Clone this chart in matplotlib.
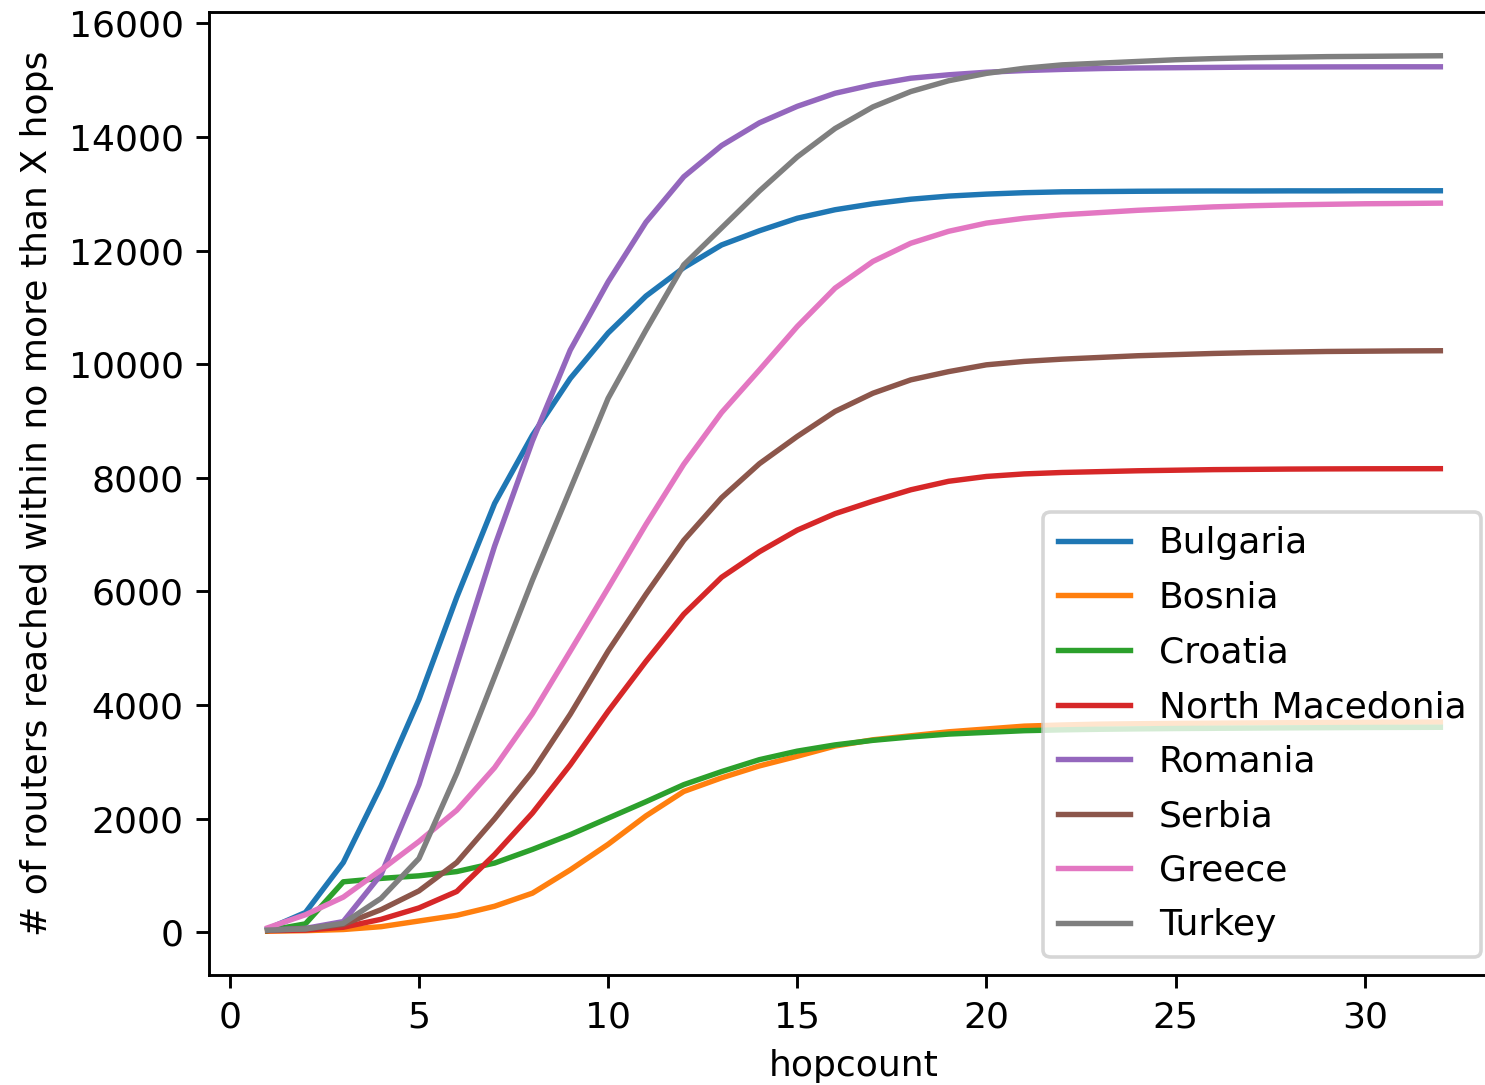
import numpy as np
import matplotlib.pyplot as plt

hops = np.arange(1, 33)

bulgaria = [60, 350, 1230, 2580, 4100, 5900, 7550, 8750, 9750, 10550, 11200, 11700,
            12100, 12350, 12570, 12720, 12825, 12905, 12960, 12995, 13020, 13035, 13040, 13045,
            13048, 13050, 13050, 13052, 13052, 13054, 13054, 13054]
bosnia = [20, 30, 50, 100, 200, 300, 460, 690, 1100, 1550, 2050, 2480,
          2720, 2930, 3100, 3280, 3390, 3460, 3530, 3580, 3630, 3650, 3665, 3672,
          3678, 3682, 3686, 3690, 3694, 3697, 3699, 3700]
croatia = [30, 150, 890, 950, 995, 1070, 1220, 1460, 1720, 2010, 2300, 2600,
           2830, 3040, 3190, 3300, 3380, 3440, 3490, 3520, 3550, 3565, 3575, 3582,
           3588, 3592, 3596, 3600, 3603, 3606, 3608, 3610]
north_macedonia = [30, 40, 90, 230, 430, 720, 1370, 2100, 2950, 3890, 4770, 5600,
                   6250, 6700, 7080, 7370, 7590, 7790, 7940, 8025, 8070, 8095, 8110, 8125,
                   8135, 8145, 8150, 8155, 8158, 8160, 8161, 8162]
romania = [40, 70, 190, 1020, 2600, 4700, 6800, 8650, 10250, 11450, 12500, 13300,
           13850, 14250, 14540, 14770, 14920, 15035, 15095, 15140, 15170, 15190, 15205, 15215,
           15220, 15225, 15230, 15232, 15234, 15235, 15236, 15236]
serbia = [40, 60, 140, 400, 730, 1230, 2000, 2830, 3840, 4950, 5950, 6900,
          7650, 8250, 8730, 9170, 9490, 9725, 9870, 9990, 10050, 10090, 10120, 10150,
          10170, 10190, 10205, 10215, 10225, 10230, 10235, 10238]
greece = [80, 310, 620, 1100, 1600, 2150, 2900, 3850, 4950, 6060, 7180, 8240,
          9150, 9900, 10665, 11340, 11810, 12130, 12340, 12485, 12570, 12630, 12670, 12710,
          12740, 12770, 12790, 12805, 12815, 12825, 12830, 12836]
turkey = [40, 60, 160, 600, 1300, 2800, 4500, 6200, 7800, 9400, 10600, 11750,
          12400, 13050, 13650, 14150, 14530, 14800, 14990, 15120, 15210, 15270, 15300, 15330,
          15360, 15380, 15395, 15405, 15415, 15420, 15425, 15430]

countries = ["Bulgaria", "Bosnia", "Croatia", "North Macedonia",
             "Romania", "Serbia", "Greece", "Turkey"]
series = [bulgaria, bosnia, croatia, north_macedonia,
          romania, serbia, greece, turkey]

dpi = 260
fig = plt.figure(figsize=(1485 / dpi, 1085 / dpi), dpi=dpi)
# the original image is cropped on the right, so the axes run past the figure edge
ax = fig.add_axes([209 / 1485, 110 / 1085, 1290 / 1485, 963 / 1085])

for name, values in zip(countries, series):
    ax.plot(hops, values, label=name)

ax.set_xlabel("hopcount")
ax.set_ylabel("# of routers reached within no more than X hops")
ax.legend(loc="lower right", labelspacing=0.57)

fig.savefig("out.png", dpi=dpi)
